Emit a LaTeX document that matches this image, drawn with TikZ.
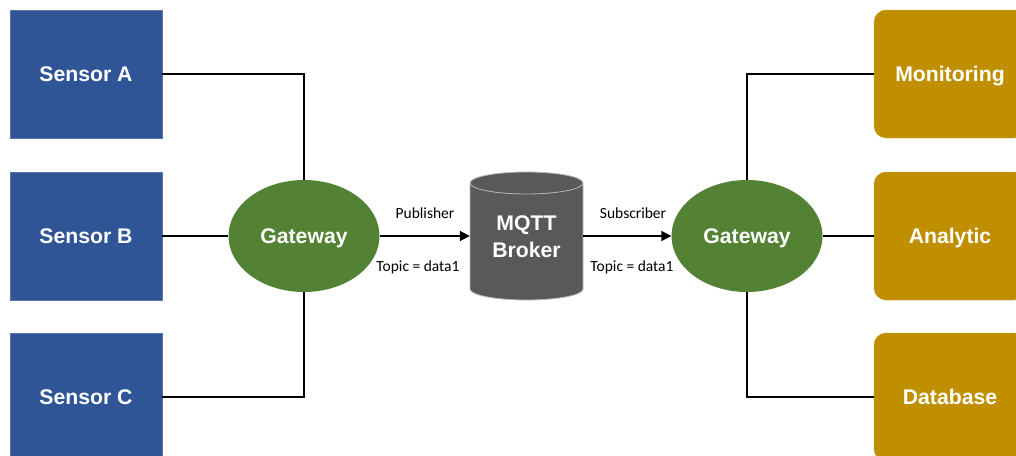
\documentclass[tikz,border=0pt]{standalone}
\usepackage{fontspec}
\setmainfont{Liberation Sans}
\newfontfamily\lblfont{Carlito}
\usetikzlibrary{arrows.meta,shapes.geometric}
\definecolor{sblue}{HTML}{2F5597}
\definecolor{ggreen}{HTML}{548235}
\definecolor{agold}{HTML}{BF8F00}
\definecolor{bgray}{HTML}{595959}
\tikzset{
  bigtext/.style={text=white, font=\fontsize{21.2}{27}\selectfont\bfseries},
  oneline/.style={text height=15pt, text depth=0pt},
  sensorbox/.style={bigtext, oneline, fill=sblue, draw=sblue!80!white, minimum width=152pt, minimum height=128pt, inner sep=0pt},
  appbox/.style={bigtext, oneline, fill=agold, draw=agold!80!white, rounded corners=12pt, minimum width=152pt, minimum height=128pt, inner sep=0pt},
  gw/.style={bigtext, ellipse, fill=ggreen, draw=none, minimum width=151pt, minimum height=112pt, inner sep=0pt},
  conn/.style={line width=1.8pt, black},
  arr/.style={line width=1.8pt, black, -{Triangle[length=10pt,width=10pt]}},
  lbl/.style={font=\lblfont\fontsize{15.5}{17}\selectfont, inner sep=0pt, text=black}
}
\begin{document}
\begin{tikzpicture}[x=1pt,y=-1pt]
\useasboundingbox (0,0) rectangle (1016,455);
\clip (0,0) rectangle (1016,455);
\fill[white] (0,0) rectangle (1016,455);

% sensors
\node[sensorbox] (sa) at (86,74) {Sensor A};
\node[sensorbox] (sb) at (86,236) {Sensor B};
\node[sensorbox] (sc) at (86,397) {Sensor C};

% apps
\node[appbox] (mo) at (950,74) {Monitoring};
\node[appbox] (an) at (950,236) {Analytic};
\node[appbox] (db) at (950,397) {Database};

% gateways
\node[gw] (g1) at (304,236) {};
\node[bigtext, oneline, inner sep=0pt] (g1t) at (304,236) {Gateway};
\node[gw] (g2) at (747,236) {};
\node[bigtext, oneline, inner sep=0pt] (g2t) at (747,236) {Gateway};

% broker cylinder
\fill[bgray] (470,183) -- (470,289) arc[start angle=180, end angle=360, x radius=56.5, y radius=-11] -- (583,183) -- cycle;
\fill[bgray] (526.5,183) ellipse[x radius=56.5, y radius=11];
\draw[gray!55, line width=0.8pt] (526.5,183) ellipse[x radius=56.5, y radius=11];
\draw[gray!55, line width=0.8pt] (470,183) -- (470,289) arc[start angle=180, end angle=360, x radius=56.5, y radius=-11] -- (583,183);
\node[draw=none, minimum width=113pt, minimum height=128pt, inner sep=0pt] (br) at (526.5,236) {};
\node[bigtext, align=center, inner sep=0pt] (brt) at (526.5,237) {MQTT\\Broker};

% connectors left
\draw[conn] (sa.east) -| (g1.north);
\draw[conn] (sc.east) -| (g1.south);
\draw[conn] (sb.east) -- (g1.west);
% connectors right
\draw[conn] (mo.west) -| (g2.north);
\draw[conn] (db.west) -| (g2.south);
\draw[conn] (an.west) -- (g2.east);

% arrows
\draw[arr] (g1.east) -- (br.west);
\draw[arr] (br.east) -- (g2.west);

% labels
\node[lbl] (p1) at (425,213) {Publisher};
\node[lbl] (t1) at (418,267) {Topic = data1};
\node[lbl] (s1) at (633,213) {Subscriber};
\node[lbl] (t2) at (632,267) {Topic = data1};
\end{tikzpicture}
\end{document}
